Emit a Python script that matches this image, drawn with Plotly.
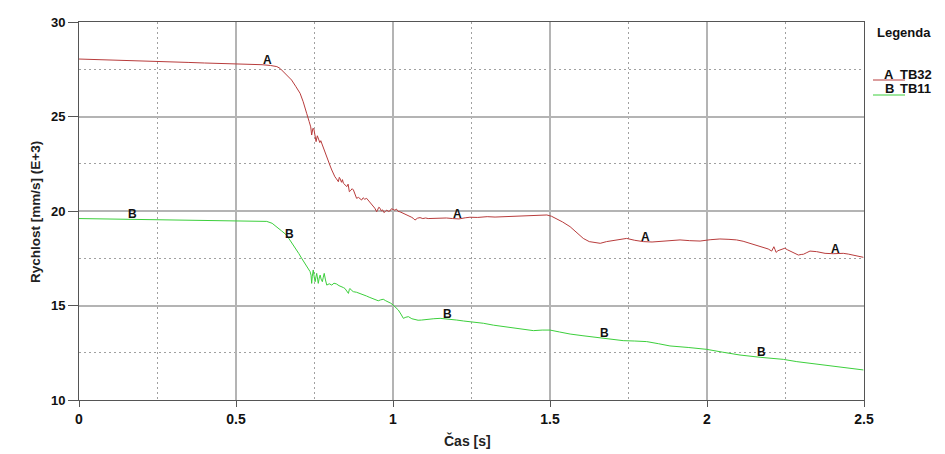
import plotly.graph_objects as go
import numpy as np

# ---- data ----
A_x = [0.000,0.050,0.100,0.150,0.200,0.250,0.300,0.350,0.400,0.450,0.510,0.583,0.610,0.630,0.640,0.651,0.663,0.677,0.690,0.704,
       0.714,0.720,0.725,0.733,0.738,0.741,0.745,0.748,0.752,0.755,0.759,0.762,0.767,0.770,0.773,0.778,0.783,0.788,0.794,0.800,
       0.805,0.810,0.815,0.820,0.826,0.829,0.831,0.836,0.839,0.842,0.847,0.853,0.857,0.861,0.866,0.870,0.874,0.879,0.884,0.890,
       0.895,0.900,0.905,0.910,0.916,0.922,0.927,0.932,0.937,0.942,0.948,0.952,0.955,0.959,0.963,0.967,0.971,0.975,0.980,0.985,
       0.990,0.995,1.000,1.006,1.011,1.016,1.022,1.030,1.037,1.044,1.052,1.058,1.064,1.070,1.078,1.086,1.095,1.104,1.112,1.130,
       1.150,1.170,1.190,1.210,1.230,1.245,1.270,1.300,1.325,1.351,1.380,1.410,1.435,1.458,1.475,1.490,1.505,1.520,1.540,1.564,
       1.585,1.606,1.625,1.645,1.660,1.680,1.700,1.720,1.744,1.770,1.797,1.825,1.850,1.880,1.914,1.945,1.978,2.010,2.041,2.070,
       2.094,2.115,2.137,2.155,2.169,2.182,2.195,2.206,2.210,2.213,2.217,2.220,2.226,2.232,2.240,2.248,2.256,2.264,2.278,2.291,
       2.300,2.307,2.318,2.328,2.349,2.376,2.402,2.434,2.450,2.466,2.482,2.498]
A_y = [28.04,28.02,27.98,27.96,27.93,27.91,27.88,27.86,27.83,27.81,27.78,27.74,27.70,27.64,27.55,27.37,27.15,26.93,26.60,26.23,
       25.78,25.50,25.17,24.73,24.45,24.02,24.38,24.34,23.95,23.67,23.98,23.85,23.62,23.72,23.58,23.30,23.14,22.92,22.61,22.38,
       22.17,21.95,21.81,21.70,21.55,21.78,21.73,21.52,21.66,21.47,21.40,21.29,21.42,21.02,21.10,21.18,21.11,20.90,20.67,20.72,
       20.62,20.58,20.70,20.62,20.67,20.55,20.45,20.41,20.28,20.15,19.96,20.08,20.20,20.14,20.00,20.06,19.92,19.96,20.05,19.98,
       20.00,20.12,20.10,20.04,20.10,19.98,19.96,19.90,19.85,19.82,19.75,19.68,19.62,19.52,19.62,19.65,19.60,19.63,19.60,19.62,
       19.61,19.63,19.60,19.58,19.64,19.67,19.66,19.70,19.68,19.70,19.72,19.74,19.76,19.79,19.80,19.79,19.72,19.61,19.42,19.17,
       18.86,18.55,18.38,18.32,18.29,18.38,18.44,18.50,18.55,18.45,18.38,18.36,18.38,18.44,18.47,18.43,18.41,18.48,18.52,18.50,
       18.47,18.40,18.29,18.20,18.11,18.05,17.99,17.88,18.02,18.11,17.95,17.81,17.90,17.94,18.00,18.03,17.95,17.88,17.76,17.67,
       17.70,17.71,17.80,17.88,17.85,17.76,17.74,17.76,17.72,17.67,17.63,17.55]

B_x = [0.000,0.100,0.200,0.300,0.400,0.510,0.598,0.615,0.630,0.645,0.661,0.675,0.688,0.700,0.709,0.718,0.725,0.731,0.736,0.739,
       0.741,0.743,0.746,0.749,0.752,0.755,0.757,0.760,0.762,0.765,0.768,0.771,0.775,0.778,0.781,0.785,0.789,0.797,0.805,0.812,
       0.820,0.828,0.837,0.842,0.847,0.852,0.855,0.858,0.861,0.863,0.868,0.874,0.884,0.895,0.905,0.916,0.924,0.932,0.942,0.953,
       0.961,0.969,0.977,0.985,0.993,1.000,1.008,1.017,1.025,1.033,1.041,1.049,1.060,1.070,1.080,1.091,1.110,1.130,1.150,1.175,
       1.203,1.225,1.245,1.270,1.288,1.320,1.351,1.400,1.447,1.475,1.500,1.530,1.564,1.605,1.649,1.690,1.733,1.770,1.808,1.845,
       1.882,1.940,1.999,2.050,2.105,2.169,2.243,2.286,2.340,2.392,2.445,2.498]
B_y = [19.60,19.58,19.55,19.53,19.50,19.47,19.45,19.35,19.17,18.95,18.73,18.40,18.05,17.75,17.50,17.25,17.05,16.90,16.79,16.60,
       16.17,16.55,16.88,16.50,16.26,16.55,16.70,16.40,16.17,16.45,16.61,16.40,16.26,16.50,16.70,16.35,16.08,16.15,16.08,16.18,
       16.14,16.05,16.00,15.95,15.90,15.80,15.68,15.64,15.85,15.90,15.80,15.73,15.70,15.64,15.58,15.50,15.44,15.38,15.32,15.25,
       15.30,15.33,15.25,15.20,15.12,15.03,14.92,14.76,14.55,14.32,14.38,14.41,14.30,14.27,14.22,14.23,14.28,14.30,14.32,14.26,
       14.23,14.18,14.14,14.10,14.06,13.96,13.88,13.78,13.67,13.70,13.70,13.60,13.49,13.40,13.30,13.22,13.14,13.12,13.09,12.98,
       12.86,12.78,12.68,12.53,12.38,12.26,12.15,12.03,11.92,11.80,11.70,11.59]

A_label_x = [0.60, 1.205, 1.805, 2.41]
B_label_x = [0.17, 0.67, 1.175, 1.672, 2.175]
series_names = ["TB32", "TB11"]
series_letters = ["A", "B"]

RED = "#b83c3c"
GREEN = "#3ccf3c"
FONT = "Liberation Sans"
NARROW = "Liberation Sans Narrow, Liberation Sans"

# page body has an 8px margin: figure is placed at (8, 8)
OFF = 8
W, H = 945 - OFF, 454 - OFF
PL, PT, PR, PB = 79, 22, 864, 400          # plot area in window pixels
PW, PH = PR - PL, PB - PT

def px_x(x):
    return (x - PL) / PW

def px_y(y):
    return 1.0 - (y - PT) / PH

fig = go.Figure()
fig.add_trace(go.Scatter(x=A_x, y=A_y, mode="lines", line=dict(color=RED, width=1), name=series_names[0], showlegend=False))
fig.add_trace(go.Scatter(x=B_x, y=B_y, mode="lines", line=dict(color=GREEN, width=1), name=series_names[1], showlegend=False))

ann = []
for lx in A_label_x:
    ann.append(dict(x=lx, y=float(np.interp(lx, A_x, A_y)), text="<b>A</b>", showarrow=False,
                    yanchor="middle", yshift=5, font=dict(family=FONT, size=12, color="#111")))
for lx in B_label_x:
    ann.append(dict(x=lx, y=float(np.interp(lx, B_x, B_y)), text="<b>B</b>", showarrow=False,
                    yanchor="middle", yshift=5, font=dict(family=FONT, size=12, color="#111")))

# axis titles
ann.append(dict(xref="paper", yref="paper", x=px_x(467), y=px_y(441), yanchor="middle", text="<b>Čas [s]</b>",
                showarrow=False, font=dict(family=NARROW, size=14, color="#222")))
ann.append(dict(xref="paper", yref="paper", x=px_x(35), y=px_y(212), xanchor="center", yanchor="middle",
                text="<b>Rychlost [mm/s] (E+3)</b>", textangle=-90, showarrow=False,
                font=dict(family=FONT, size=13.5, color="#222")))

# legend
ann.append(dict(xref="paper", yref="paper", x=px_x(875), y=px_y(33), xanchor="left", yanchor="middle",
                text="<b>Legenda</b>", showarrow=False, font=dict(family=FONT, size=13, color="#111")))
shapes = []
for i, (let, nm, col) in enumerate(zip(series_letters, series_names, [RED, GREEN])):
    ty = 74 + i * 15
    ann.append(dict(xref="paper", yref="paper", x=px_x(889), y=px_y(ty), xanchor="center",
                    yanchor="middle", text=f"<b>{let}</b>", showarrow=False, font=dict(family=FONT, size=13, color="#111")))
    ann.append(dict(xref="paper", yref="paper", x=px_x(898), y=px_y(ty), xanchor="left",
                    yanchor="middle", text=f"<b>{nm}</b>", showarrow=False, font=dict(family=FONT, size=13, color="#111")))
    shapes.append(dict(type="line", xref="paper", yref="paper", x0=px_x(873), x1=px_x(905),
                       y0=px_y(ty + 6), y1=px_y(ty + 6), line=dict(color=col, width=1)))

fig.update_layout(
    width=W, height=H,
    margin=dict(l=PL - OFF, r=945 - PR, t=PT - OFF, b=454 - PB, autoexpand=False),
    plot_bgcolor="white", paper_bgcolor="white",
    annotations=ann, shapes=shapes, showlegend=False,
)
fig.update_xaxes(range=[0, 2.5], dtick=0.5, tick0=0, showgrid=True, gridcolor="#b4b4b4", gridwidth=1.5,
                 showline=True, linecolor="#555", linewidth=1, mirror=True, ticks="outside", ticklen=6, tickcolor="#555",
                 tickfont=dict(family=NARROW, size=14, color="#111", weight="bold"), tickformat="~g", zeroline=False,
                 minor=dict(dtick=0.25, showgrid=True, gridcolor="#a0a0a0", griddash="2px,3px", gridwidth=1, ticks=""))
fig.update_yaxes(range=[10, 30], dtick=5, tick0=10, showgrid=True, gridcolor="#b4b4b4", gridwidth=1.5,
                 showline=True, linecolor="#555", linewidth=1, mirror=True, ticks="outside", ticklen=10, tickcolor="#555",
                 tickfont=dict(family=FONT, size=13, color="#111", weight="bold"), zeroline=False,
                 minor=dict(dtick=2.5, showgrid=True, gridcolor="#a0a0a0", griddash="2px,3px", gridwidth=1, ticks=""))

fig.write_html("out.html")
